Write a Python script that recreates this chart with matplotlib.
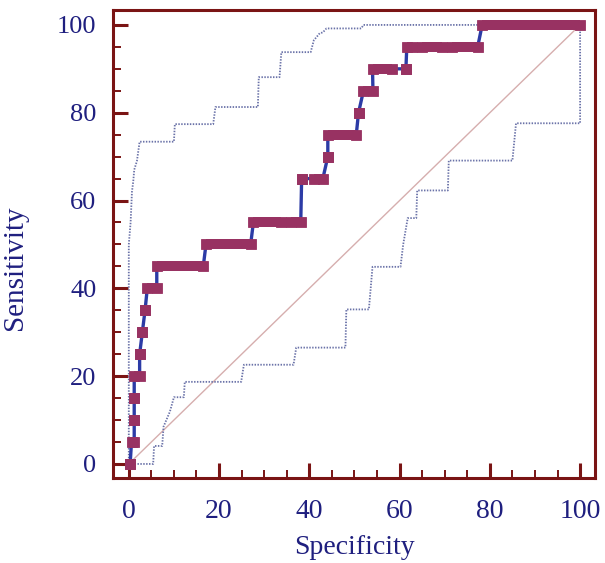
import matplotlib
matplotlib.use("Agg")
import matplotlib.pyplot as plt
from matplotlib.ticker import MultipleLocator

# ROC curve: horizontal runs (sensitivity level, first and last specificity point)
roc_sens    = [0, 5, 10, 15, 20, 25, 30, 35, 40, 45, 50, 55, 55, 65, 65, 70, 75, 80, 85, 90, 90, 95, 95, 95, 100]
roc_x_start = [0.3, 0.6, 1.2, 1.2, 1.2, 2.4, 3.0, 3.6, 4.1, 6.2, 17.1, 27.6, 36.0, 38.3, 41.1, 44.1, 44.1, 50.9, 52.0, 54.0, 61.4, 61.6, 64.9, 71.7, 78.3]
roc_x_end   = [0.3, 1.2, 1.2, 1.2, 2.4, 2.4, 3.0, 3.6, 6.2, 16.5, 27.0, 33.7, 38.1, 38.3, 43.0, 44.1, 50.4, 50.9, 54.1, 58.3, 61.4, 62.7, 69.3, 77.3, 100.0]

# 95% confidence bounds (step lines)
upper_x = [0, 0, 0.4, 0.7, 1.0, 1.2, 1.8, 2.4, 10.0, 10.2, 18.7, 19.2, 28.6, 28.8, 33.4, 33.8, 40.3, 41.0, 42.3, 43.0, 43.8, 51.5, 52.0, 100]
upper_y = [0, 50, 55, 62, 64.5, 67, 69, 73.4, 73.4, 77.4, 77.4, 81.3, 81.3, 88.1, 88.1, 93.8, 93.8, 96.5, 98.1, 98.3, 99.2, 99.2, 100, 100]
lower_x = [0, 5.4, 5.6, 7.4, 7.7, 9.1, 10.0, 12.2, 12.4, 24.9, 25.5, 36.5, 37.1, 48.0, 48.2, 53.2, 54.0, 60.2, 60.8, 61.8, 63.7, 63.9, 70.7, 70.9, 85.0, 85.8, 100, 100]
lower_y = [0, 0, 4.1, 4.1, 8.5, 11.9, 15.2, 15.2, 18.7, 18.7, 22.6, 22.6, 26.5, 26.5, 35.2, 35.2, 44.9, 44.9, 50, 56.0, 56.0, 62.3, 62.3, 69.1, 69.1, 77.6, 77.6, 100]

diag = [0, 100]
ticks = [0, 20, 40, 60, 80, 100]

frame_c = "#7a1414"
text_c = "#1f1f7f"
mark_c = "#983262"
line_c = "#2c3ba6"
ci_c = "#6a72a8"
diag_c = "#d6aeae"

plt.rcParams["font.family"] = ["Liberation Serif", "DejaVu Serif"]

fig = plt.figure(figsize=(6.05, 5.63), dpi=100)
ax = fig.add_axes([113/605, 1 - 478/563, (595-113)/605, (478-10)/563])

ax.plot(diag, diag, color=diag_c, lw=1.0, zorder=1)
ax.plot(upper_x, upper_y, color=ci_c, lw=1.3, ls=(0, (0.8, 0.8)), zorder=2)
ax.plot(lower_x, lower_y, color=ci_c, lw=1.3, ls=(0, (0.8, 0.8)), zorder=2)

# connecting line through all ROC points
lx, ly = [], []
for s, a, b in zip(roc_sens, roc_x_start, roc_x_end):
    lx += [a, b]
    ly += [s, s]
ax.plot(lx, ly, color=line_c, lw=2.4, zorder=3)

ms = 7.2
for s, a, b in zip(roc_sens, roc_x_start, roc_x_end):
    if b > a:
        ax.plot([a, b], [s, s], color=mark_c, lw=ms, solid_capstyle="butt", zorder=4)
    ax.plot([a, b], [s, s], ls="none", marker="s", ms=ms, mfc=mark_c, mec=mark_c, mew=0.6, zorder=5)

ax.set_xlim(-3.5, 103.3)
ax.set_ylim(-3.2, 103.4)
ax.set_xticks(ticks)
ax.set_yticks(ticks)
ax.xaxis.set_minor_locator(MultipleLocator(5))
ax.yaxis.set_minor_locator(MultipleLocator(5))
ax.tick_params(which="both", direction="in", color=frame_c, labelcolor=text_c, top=False, right=False)
ax.tick_params(which="major", length=11, width=2.2)
ax.tick_params(axis="x", which="major", pad=15, labelsize=20)
ax.tick_params(axis="y", which="major", pad=12, labelsize=19)
ax.tick_params(which="minor", length=5.5, width=1.4)
for sp in ax.spines.values():
    sp.set_color(frame_c)
    sp.set_linewidth(2.2)

ax.set_xlabel("Specificity", fontsize=20, color=text_c, labelpad=8)
ax.set_ylabel("Sensitivity", fontsize=21, color=text_c)
ax.yaxis.set_label_coords(-0.176, 0.45)

fig.savefig("out.png", dpi=100)
